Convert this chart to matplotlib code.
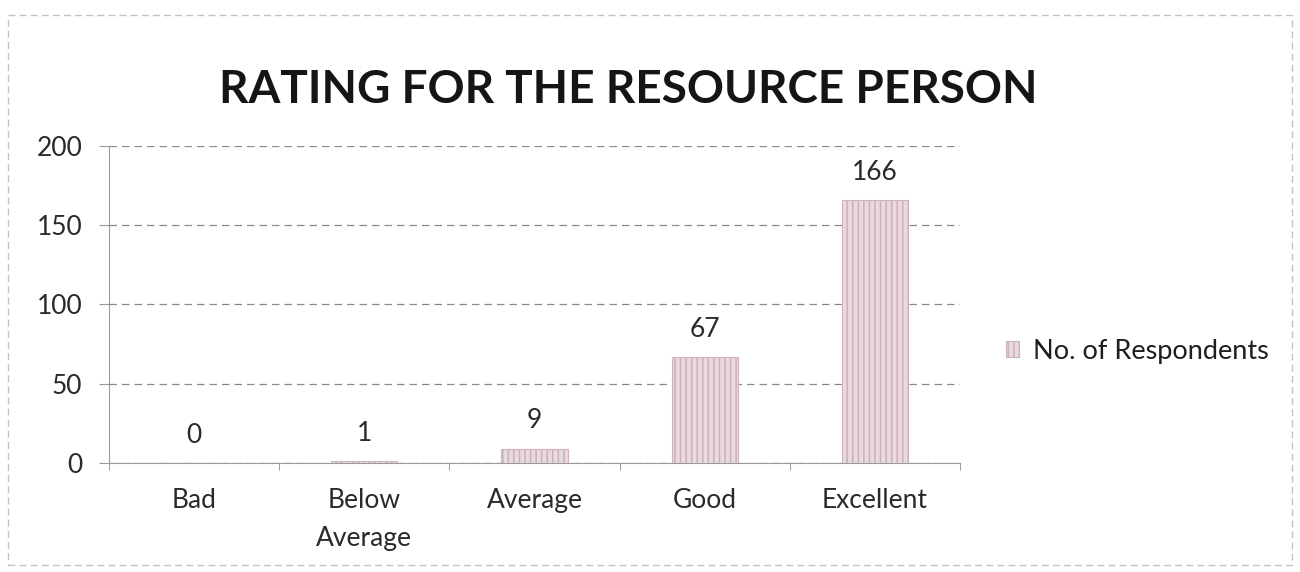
import matplotlib.pyplot as plt
from matplotlib.patches import Rectangle

# avaliacao do palestrante
categorias = ['Bad', 'Below\nAverage', 'Average', 'Good', 'Excellent']
respondentes = [0, 1, 9, 67, 166]
ticks_y = [0, 50, 100, 150, 200]

plt.rcParams['font.family'] = ['Lato', 'DejaVu Sans']
plt.rcParams['hatch.linewidth'] = 1.2
plt.rcParams['hatch.color'] = '#c7aab0'

fig = plt.figure(figsize=(13, 5.72), dpi=100)
ax = fig.add_axes([0.0838, 0.1906, 0.6547, 0.5542])

x = list(range(len(categorias)))
barras = ax.bar(x, respondentes, width=0.39, color='#eadadd', edgecolor='#cdb4ba',
                linewidth=0.8, hatch='|||', label='No. of Respondents', zorder=3)

for xi, v in zip(x, respondentes):
    ax.annotate(str(v), (xi, v), xytext=(0, 11), textcoords='offset points',
                ha='center', va='bottom', fontsize=19, color='#2a2a2a')

ax.set_xlim(-0.5, 4.5)
ax.set_ylim(0, 200)
ax.set_yticks(ticks_y)
ax.set_yticklabels([str(t) for t in ticks_y], fontsize=19, color='#2a2a2a')
ax.set_xticks(x)
ax.set_xticklabels(categorias, fontsize=19, color='#2a2a2a', linespacing=1.65)
ax.tick_params(axis='x', length=0, pad=18)
ax.tick_params(axis='y', length=7, color='#9a9a9a', pad=12)

# marcas entre as categorias
ax.set_xticks([i - 0.5 for i in range(len(categorias) + 1)], minor=True)
ax.tick_params(axis='x', which='minor', length=5, color='#888888', direction='out')

ax.grid(axis='y', color='#8a8a8a', linestyle=(0, (6, 4)), linewidth=0.9, zorder=0)
for lado in ['top', 'right']:
    ax.spines[lado].set_visible(False)
ax.spines['left'].set_color('#9a9a9a')
ax.spines['bottom'].set_color('#9a9a9a')

fig.text(0.483, 0.842, 'RATING FOR THE RESOURCE PERSON', ha='center', va='center',
         fontsize=33, fontweight='bold', color='#151515')

fig.legend(handles=[barras], loc='center left', bbox_to_anchor=(0.755, 0.386),
           frameon=False, fontsize=19.5, handlelength=0.5, handleheight=0.55,
           handletextpad=0.5, labelcolor='#1e1e1e')

# moldura tracejada do grafico
fig.patches.append(Rectangle((0.006, 0.012), 0.988, 0.962, transform=fig.transFigure,
                             fill=False, edgecolor='#c8c0c0', linestyle=(0, (5, 3)),
                             linewidth=1.0))

fig.savefig('out.png', dpi=100)
